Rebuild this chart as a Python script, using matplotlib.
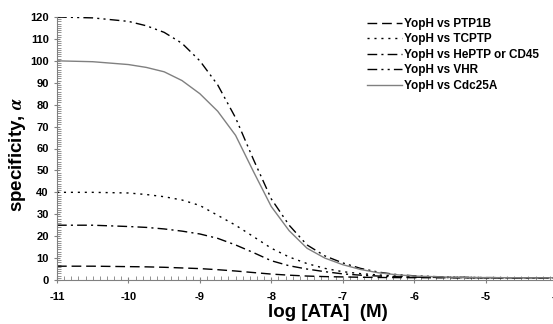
import matplotlib; matplotlib.use("Agg")
import matplotlib.pyplot as plt
from matplotlib.ticker import MultipleLocator

plt.rcParams["font.family"] = ["Liberation Sans", "DejaVu Sans"]
plt.rcParams["font.weight"] = "bold"
plt.rcParams["axes.unicode_minus"] = False
plt.rcParams["mathtext.fontset"] = "stix"

# log [ATA] (M) sample points
log_ata = [-11, -10.5, -10, -9.75, -9.5, -9.25, -9, -8.75, -8.5, -8.25, -8, -7.75,
           -7.5, -7.25, -7, -6.75, -6.5, -6.25, -6, -5.5, -5, -4.5, -4]

ptp1b = [6.3, 6.3, 6.1, 6.0, 5.8, 5.5, 5.2, 4.7, 4.1, 3.4, 2.7, 2.2,
         1.8, 1.55, 1.4, 1.25, 1.15, 1.1, 1.05, 1.02, 1.0, 1.0, 1.0]
tcptp = [40, 40, 39.7, 39, 38, 36.5, 34, 29.5, 25, 19.8, 14.5, 10.5,
         7.5, 5.3, 3.8, 2.9, 2.3, 1.8, 1.5, 1.2, 1.05, 1.0, 1.0]
heptp = [25, 25, 24.4, 24, 23.3, 22.3, 21, 19, 16, 12.5, 8.8, 6.5,
         5, 3.8, 2.8, 2.2, 1.8, 1.5, 1.3, 1.1, 1.03, 1.0, 1.0]
vhr = [120, 119.6, 118, 116, 113, 108, 100, 89, 74, 55, 37, 25,
       16, 11, 7.8, 5.3, 3.6, 2.5, 1.9, 1.3, 1.1, 1.03, 1.0]
cdc25a = [100, 99.6, 98.3, 97, 95, 91, 85, 77, 66, 49.5, 33.5, 22.5,
          14.5, 10, 7, 4.8, 3.3, 2.4, 1.8, 1.3, 1.1, 1.03, 1.0]

labels = ["YopH vs PTP1B", "YopH vs TCPTP", "YopH vs HePTP or CD45",
          "YopH vs VHR", "YopH vs Cdc25A"]

fig = plt.figure(figsize=(5.53, 3.24), dpi=100)
ax = fig.add_axes([57 / 553, 44 / 324, 500 / 553, 263 / 324])

ax.plot(log_ata, ptp1b, color="black", lw=1.0, dashes=(7, 3.5), label=labels[0])
ax.plot(log_ata, tcptp, color="black", lw=1.0, dashes=(1.5, 3.5), label=labels[1])
ax.plot(log_ata, heptp, color="black", lw=1.0, dashes=(7, 3, 1.5, 3), label=labels[2])
ax.plot(log_ata, vhr, color="black", lw=1.0, dashes=(7, 3, 1.5, 3, 1.5, 3), label=labels[3])
ax.plot(log_ata, cdc25a, color="#808080", lw=1.0, label=labels[4])

ax.set_xlim(-11, -4)
ax.set_ylim(0, 120)
ax.xaxis.set_major_locator(MultipleLocator(1))
ax.xaxis.set_minor_locator(MultipleLocator(0.1))
ax.yaxis.set_major_locator(MultipleLocator(10))
ax.yaxis.set_minor_locator(MultipleLocator(1))

for s in ["top", "right"]:
    ax.spines[s].set_visible(False)
for s in ["left", "bottom"]:
    ax.spines[s].set_color("#808080")
    ax.spines[s].set_linewidth(0.8)

ax.tick_params(which="major", direction="inout", length=5, width=0.8, color="#808080",
               labelsize=8)
ax.tick_params(which="minor", direction="in", length=3, width=0.6, color="#808080")
ax.tick_params(axis="x", which="major", pad=6)
for t in ax.get_xticklabels() + ax.get_yticklabels():
    t.set_fontweight("bold")

ax.set_xlabel("log [ATA]  (M)", fontsize=13.5, fontweight="bold")
ax.xaxis.set_label_coords((328 - 57) / 500, -(304 - 280) / 263)
ax.set_ylabel(r"specificity, $\mathit{\alpha}$", fontsize=13.5, fontweight="bold")
ax.yaxis.set_label_coords(-(57 - 28) / 500, (280 - 155) / 263)

leg = ax.legend(loc="upper left", bbox_to_anchor=(0.61, 1.015), frameon=False,
                fontsize=8.5, handlelength=3.0, handletextpad=0.2, labelspacing=0.3,
                borderaxespad=0)
for t in leg.get_texts():
    t.set_fontweight("bold")

fig.savefig("out.png", dpi=100)
